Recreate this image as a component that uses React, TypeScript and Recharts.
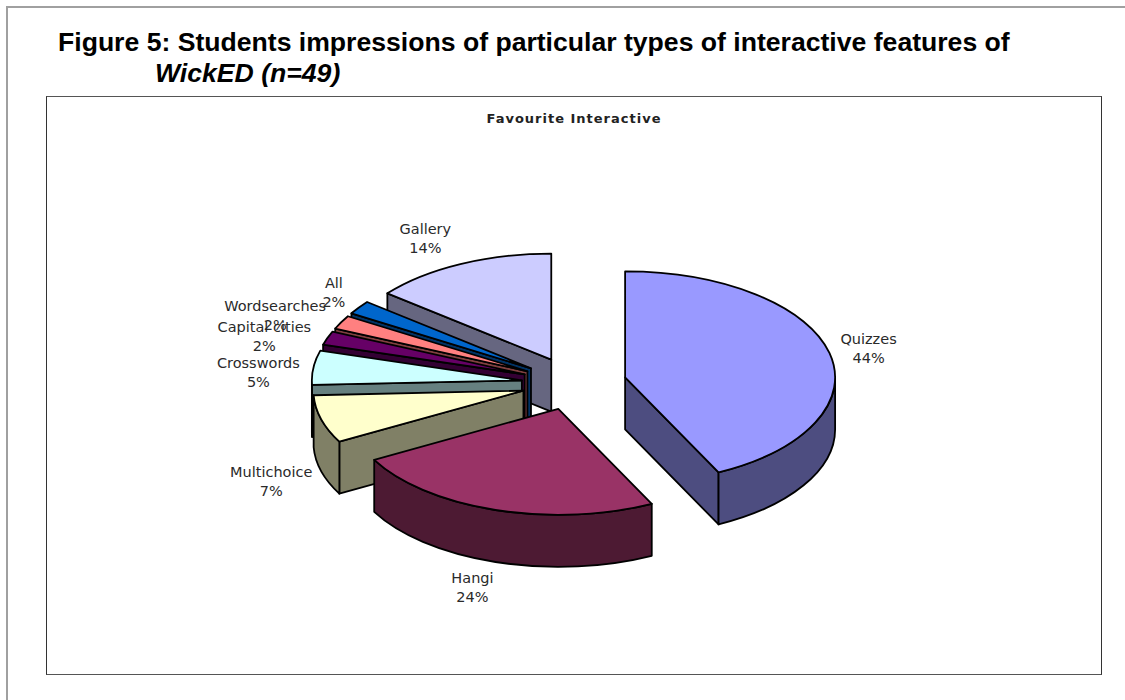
import React from 'react'
import { PieChart, Pie } from 'recharts'

// Drawn back to front, running anticlockwise from 12 o'clock, so nearer slices paint over further ones
const categories = ['Gallery', 'All', 'Wordsearches', 'Capital cities', 'Crosswords', 'Multichoice', 'Hangi', 'Quizzes']
const percentages = [14, 2, 2, 2, 5, 7, 24, 44]
const topColors = ['#CCCCFF', '#0066CC', '#FF8080', '#660066', '#CCFFFF', '#FFFFCC', '#993366', '#9999FF']
const wallColors = ['#666680', '#003366', '#804040', '#330033', '#668080', '#808066', '#4D1A33', '#4D4D80']

// Label offset from the rim of each slice, in draw order
const labelNudges: [number, number][] = [
  [-35, -25],
  [-25, -15],
  [-66, -6],
  [-63, -1],
  [-55, 5],
  [-50, 63],
  [-23, 78],
  [39, -4],
]

const chartData = categories.map((name, i) => ({ name, value: percentages[i] }))

const TILT = 0.505
const DEPTH = 52
const EXPLODE = 0.25
const rad = (deg: number) => (deg * Math.PI) / 180

// Clockwise bearing from 12 o'clock, pulled slightly by the viewing perspective
const bearing = (deg: number) => deg - 5 * Math.sin(rad(deg / 2)) ** 2

const toBearings = (startAngle: number, endAngle: number) => ({
  from: bearing(360 - (endAngle - 90)),
  to: bearing(360 - (startAngle - 90)),
})

const apexOf = (cx: number, cy: number, r: number, mid: number) => ({
  x: cx + EXPLODE * r * Math.sin(rad(mid)),
  y: cy - EXPLODE * r * TILT * Math.cos(rad(mid)),
})

const Slice3D = (props: any) => {
  const { cx, cy, outerRadius: r, startAngle, endAngle, index } = props
  const { from, to } = toBearings(startAngle, endAngle)
  const apex = apexOf(cx, cy, r, (from + to) / 2)
  const ry = r * TILT
  const rim = (deg: number, drop = 0) => ({
    x: apex.x + r * Math.sin(rad(deg)),
    y: apex.y - ry * Math.cos(rad(deg)) + drop,
  })
  const top = topColors[index]
  const wall = wallColors[index]
  const line = { stroke: '#000', strokeWidth: 1.8, strokeLinejoin: 'round' as const }

  const cutFace = (deg: number) => {
    const e = rim(deg)
    return `M${apex.x},${apex.y} L${e.x},${e.y} L${e.x},${e.y + DEPTH} L${apex.x},${apex.y + DEPTH} Z`
  }

  // the curved wall only shows on the near half of the rim
  const wallFrom = Math.max(from, 90)
  const wallTo = Math.min(to, 270)
  let outerWall = ''
  if (wallTo > wallFrom) {
    const a = rim(wallFrom)
    const b = rim(wallTo)
    outerWall = `M${a.x},${a.y} A${r},${ry} 0 0 1 ${b.x},${b.y} L${b.x},${b.y + DEPTH} A${r},${ry} 0 0 0 ${a.x},${a.y + DEPTH} Z`
  }

  const p1 = rim(from)
  const p2 = rim(to)
  const large = to - from > 180 ? 1 : 0

  return (
    <g>
      {Math.sin(rad(from)) < 0 && <path d={cutFace(from)} fill={wall} {...line} />}
      {Math.sin(rad(to)) > 0 && <path d={cutFace(to)} fill={wall} {...line} />}
      {outerWall && <path d={outerWall} fill={wall} {...line} />}
      <path
        d={`M${apex.x},${apex.y} L${p1.x},${p1.y} A${r},${ry} 0 ${large} 1 ${p2.x},${p2.y} Z`}
        fill={top}
        {...line}
      />
    </g>
  )
}

const renderLabel = (props: any) => {
  const { cx, cy, outerRadius: r, startAngle, endAngle, index, name, value } = props
  const { from, to } = toBearings(startAngle, endAngle)
  const mid = (from + to) / 2
  const apex = apexOf(cx, cy, r, mid)
  const x = apex.x + r * Math.sin(rad(mid)) + labelNudges[index][0]
  const y = apex.y - r * TILT * Math.cos(rad(mid)) + labelNudges[index][1]
  return (
    <text
      key={name}
      x={x}
      y={y}
      textAnchor="middle"
      fontFamily="DejaVu Sans"
      fontSize={14.5}
      fill="#2a2a2a"
    >
      <tspan x={x} dy={-5}>{name}</tspan>
      <tspan x={x} dy={19}>{value}%</tspan>
    </text>
  )
}

export default function App() {
  return (
    <div style={{ position: 'absolute', left: 0, top: 0, width: 1125, height: 700, background: '#fff', overflow: 'hidden' }}>
      <div style={{ position: 'absolute', left: 6, top: 6, width: 1125, height: 700, borderLeft: '2px solid #a0a0a0', borderTop: '2px solid #a0a0a0' }} />
      <div style={{ position: 'absolute', left: 58, top: 27, fontFamily: 'Liberation Sans', fontWeight: 'bold', fontSize: 26.6, lineHeight: '31px', color: '#000', whiteSpace: 'nowrap' }}>
        Figure 5: Students impressions of particular types of interactive features of
        <br />
        <span style={{ marginLeft: 97, fontStyle: 'italic' }}>WickED (n=49)</span>
      </div>
      <div style={{ position: 'absolute', left: 46, top: 96, width: 1056, height: 579, boxSizing: 'border-box', borderTop: '1.5px solid #555', borderLeft: '1px solid #333', borderRight: '1px solid #333', borderBottom: '1.5px solid #555' }} />
      <div style={{ position: 'absolute', left: 46, width: 1056, top: 111, textAlign: 'center', fontFamily: 'DejaVu Sans', fontWeight: 'bold', fontSize: 13, letterSpacing: 1, color: '#222' }}>
        Favourite Interactive
      </div>
      <div style={{ position: 'absolute', left: 0, top: 0 }}>
        <PieChart width={1125} height={700} margin={{ top: 0, right: 0, bottom: 0, left: 0 }}>
          <Pie
            data={chartData}
            dataKey="value"
            nameKey="name"
            cx={574}
            cy={383.5}
            innerRadius={0}
            outerRadius={210}
            startAngle={90}
            endAngle={450}
            paddingAngle={0}
            stroke="none"
            shape={(p: any) => <Slice3D {...p} />}
            label={renderLabel}
            labelLine={false}
            isAnimationActive={false}
          />
        </PieChart>
      </div>
    </div>
  )
}
